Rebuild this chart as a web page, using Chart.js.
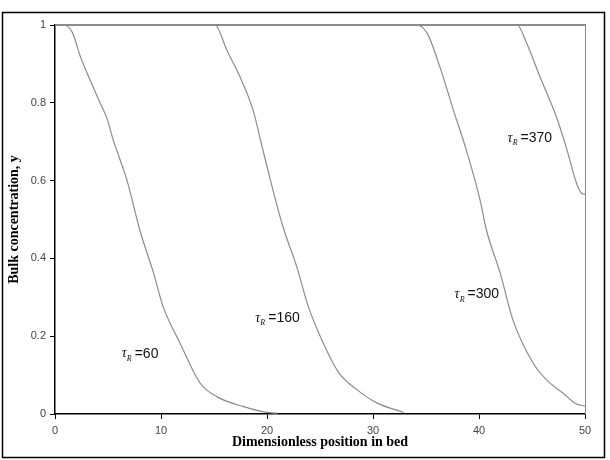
<!DOCTYPE html>
<html>
<head>
<meta charset="utf-8">
<script src="https://cdn.jsdelivr.net/npm/chart.js@4"></script>
<style>
  html, body { margin: 0; padding: 0; background: #fff; }
  #wrap { width: 610px; height: 460px; }
</style>
</head>
<body>
<div id="wrap"><canvas id="chart" width="610" height="460"></canvas></div>
<script>
// Valores
const tauValues = [60, 160, 300, 370];

const x60 = [0, 0.75, 1.6, 2.4, 3.3, 4.25, 4.9, 5.5, 6.8, 8.0, 9.3, 10.2, 11.8, 13.7, 15.3, 17.8, 20.0, 21.0];
const y60 = [1, 1, 0.983, 0.918, 0.859, 0.80, 0.76, 0.704, 0.60, 0.473, 0.362, 0.276, 0.182, 0.079, 0.044, 0.019, 0.004, 0.002];

const x160 = [0, 15.1, 16.2, 17.45, 18.7, 19.6, 20.4, 21.5, 22.8, 23.9, 25.6, 26.8, 28.5, 30.4, 32.9];
const y160 = [1, 1, 0.936, 0.867, 0.78, 0.68, 0.593, 0.482, 0.379, 0.276, 0.165, 0.105, 0.062, 0.028, 0.004];

const x300 = [0, 34.1, 35.1, 36.3, 37.6, 38.8, 40.1, 40.7, 42.0, 43.2, 45.1, 46.4, 48.0, 49.1, 50];
const y300 = [1, 1, 0.979, 0.893, 0.78, 0.679, 0.55, 0.473, 0.362, 0.242, 0.131, 0.087, 0.052, 0.027, 0.02];

const x370 = [0, 43.6, 44.5, 45.75, 47.3, 48.3, 49.2, 49.7, 50];
const y370 = [1, 1, 0.953, 0.867, 0.764, 0.679, 0.593, 0.567, 0.565];

// Posição dos rótulos (em unidades dos eixos)
const labelX = [6.3, 18.9, 37.7, 42.7];
const labelY = [0.155, 0.247, 0.307, 0.709];

const curvesX = [x60, x160, x300, x370];
const curvesY = [y60, y160, y300, y370];

function toPoints(xs, ys) {
    return xs.map((x, i) => ({ x: x, y: ys[i] }));
}

// Plugin: moldura externa, borda da área do gráfico e rótulos τR
const decorPlugin = {
    id: 'decor',
    beforeDatasetsDraw(chart) {
        const { ctx, chartArea: a } = chart;
        ctx.save();
        ctx.strokeStyle = '#8a8a8a';
        ctx.lineWidth = 1;
        ctx.beginPath();
        ctx.moveTo(a.right + 0.5, a.top);
        ctx.lineTo(a.right + 0.5, a.bottom);
        ctx.stroke();
        ctx.lineWidth = 2;
        ctx.beginPath();
        ctx.moveTo(a.left, a.top);
        ctx.lineTo(a.right + 1, a.top);
        ctx.stroke();
        ctx.restore();
    },
    afterDraw(chart) {
        const { ctx, scales } = chart;
        ctx.save();
        // moldura externa
        ctx.strokeStyle = '#000';
        ctx.lineWidth = 1.5;
        ctx.strokeRect(2.5, 12.5, 602, 445);

        ctx.fillStyle = '#111';
        ctx.textBaseline = 'middle';
        tauValues.forEach((tau, i) => {
            let px = scales.x.getPixelForValue(labelX[i]);
            const py = scales.y.getPixelForValue(labelY[i]);
            ctx.font = 'italic 14px "Liberation Serif"';
            ctx.textAlign = 'left';
            ctx.fillText('τ', px, py);
            px += ctx.measureText('τ').width;
            ctx.font = 'italic 8px "Liberation Serif"';
            ctx.fillText('R', px, py + 5);
            px += ctx.measureText('R').width + 3;
            ctx.font = '14px "Liberation Sans"';
            ctx.fillText('=' + tau, px, py);
        });
        ctx.restore();
    }
};

const ctx = document.getElementById('chart').getContext('2d');
new Chart(ctx, {
    type: 'scatter',
    data: {
        datasets: curvesX.map((xs, i) => ({
            label: 'τR = ' + tauValues[i],
            data: toPoints(xs, curvesY[i]),
            showLine: true,
            borderColor: '#8c8c8c',
            borderWidth: 1.2,
            pointRadius: 0,
            cubicInterpolationMode: 'monotone',
            clip: false
        }))
    },
    options: {
        responsive: false,
        animation: false,
        layout: { padding: { top: 25, right: 25, left: 0, bottom: 0 } },
        plugins: {
            legend: { display: false },
            tooltip: { enabled: false }
        },
        scales: {
            x: {
                type: 'linear',
                min: 0,
                max: 50,
                afterFit: (scale) => { scale.height = 46; },
                border: { color: '#000', width: 1.5 },
                grid: { drawOnChartArea: false, drawTicks: true, tickLength: 5, color: '#000' },
                ticks: {
                    stepSize: 10,
                    padding: 5,
                    color: '#444',
                    font: { family: 'Liberation Sans', size: 11 }
                },
                title: {
                    display: true,
                    text: 'Dimensionless position in bed',
                    color: '#000',
                    padding: { top: 0, bottom: 9 },
                    font: { family: 'Liberation Serif', size: 14, weight: 'bold' }
                }
            },
            y: {
                type: 'linear',
                min: 0,
                max: 1,
                afterFit: (scale) => { scale.width = 55; },
                border: { color: '#000', width: 1.5 },
                grid: { drawOnChartArea: false, drawTicks: true, tickLength: 5, color: '#000' },
                ticks: {
                    stepSize: 0.2,
                    padding: 4,
                    color: '#444',
                    font: { family: 'Liberation Sans', size: 11 },
                    callback: (value) => String(Math.round(value * 10) / 10)
                },
                title: {
                    display: true,
                    text: 'Bulk concentration, y',
                    color: '#000',
                    padding: { top: 6, bottom: 0 },
                    font: { family: 'Liberation Serif', size: 14, weight: 'bold' }
                }
            }
        }
    },
    plugins: [decorPlugin]
});
</script>
</body>
</html>
